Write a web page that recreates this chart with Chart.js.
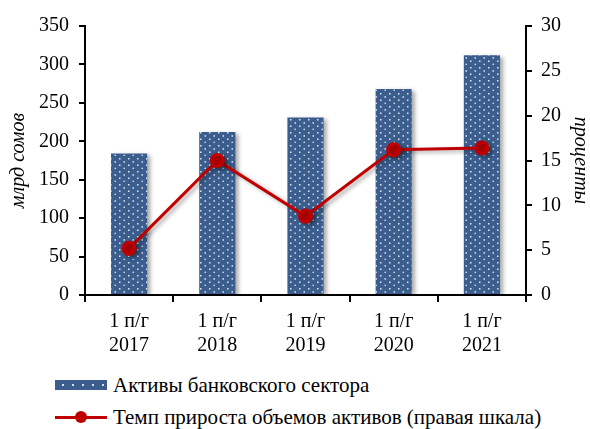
<!DOCTYPE html>
<html>
<head>
<meta charset="utf-8">
<script src="https://cdn.jsdelivr.net/npm/chart.js@4"></script>
<style>
  html, body { margin: 0; padding: 0; background: #fff; }
  #wrap { position: relative; width: 590px; height: 429px; font-family: "Times New Roman", "Liberation Serif", serif; }
  #chart-box { position: absolute; left: 0; top: 0; width: 590px; height: 366px; }
  .legend { position: absolute; left: 55px; font-size: 21px; line-height: 24px; color: #000; display: flex; align-items: center; white-space: nowrap; }
  .sym-bar { width: 52px; height: 10px; margin-right: 6px; background-color: #3b5e8f;
    background-image: radial-gradient(circle, rgba(255,255,255,0.8) 0.8px, transparent 1.2px);
    background-size: 10px 10px; background-position: 3px 0; }
  .sym-line { position: relative; width: 52px; height: 12px; margin-right: 6px; }
  .sym-line::before { content: ''; position: absolute; left: 0; right: 0; top: 4.5px; height: 3px; background: #c00000; }
  .sym-line::after { content: ''; position: absolute; left: 20px; top: 0; width: 12px; height: 12px; border-radius: 50%; background: #c00000; }
</style>
</head>
<body>
<div id="wrap">
  <div id="chart-box"><canvas id="c"></canvas></div>
  <div class="legend" style="top:373px"><div class="sym-bar"></div>Активы банковского сектора</div>
  <div class="legend" style="top:405px"><div class="sym-line"></div>Темп прироста объемов активов (правая шкала)</div>
</div>
<script>
// данные
var LABELS = [['1 п/г', '2017'], ['1 п/г', '2018'], ['1 п/г', '2019'], ['1 п/г', '2020'], ['1 п/г', '2021']];
var ASSETS = [184, 212, 231, 268, 312];      // млрд сомов
var GROWTH = [5.2, 15.0, 8.8, 16.2, 16.4];   // проценты

var BLUE = '#3b5e8f';
var RED = '#c00000';
var FAMILY = "'Times New Roman', 'Liberation Serif', serif";

function font(italic) {
  return { family: FAMILY, size: 20, style: italic ? 'italic' : 'normal', lineHeight: italic ? 1.0 : 1.2 };
}

function dotPattern() {
  var t = document.createElement('canvas');
  t.width = 9; t.height = 13;
  var g = t.getContext('2d');
  g.fillStyle = BLUE;
  g.fillRect(0, 0, 9, 13);
  g.fillStyle = 'rgba(255,255,255,0.85)';
  g.fillRect(2, 2, 1.5, 1.5);
  g.fillRect(2, 8.5, 1.5, 1.5);
  g.fillRect(6.5, 5.2, 1.5, 1.5);
  g.fillRect(6.5, 11.7, 1.5, 1.2);
  return g.createPattern(t, 'repeat');
}

var shadowPlugin = {
  id: 'shadow',
  beforeDatasetDraw: function (chart) {
    var ctx = chart.ctx;
    ctx.save();
    ctx.shadowColor = 'rgba(0,0,0,0.35)';
    ctx.shadowBlur = 4;
    ctx.shadowOffsetX = 3;
    ctx.shadowOffsetY = 2;
  },
  afterDatasetDraw: function (chart) { chart.ctx.restore(); }
};

new Chart(document.getElementById('c'), {
  type: 'bar',
  data: {
    labels: LABELS,
    datasets: [
      {
        type: 'line',
        label: 'Темп прироста объемов активов (правая шкала)',
        data: GROWTH,
        yAxisID: 'y2',
        borderColor: RED,
        backgroundColor: RED,
        borderWidth: 3,
        pointRadius: 6,
        pointBackgroundColor: RED,
        pointBorderColor: RED,
        tension: 0,
        order: 0
      },
      {
        label: 'Активы банковского сектора',
        data: ASSETS,
        yAxisID: 'y',
        backgroundColor: dotPattern(),
        categoryPercentage: 1,
        barPercentage: 0.41,
        order: 1
      }
    ]
  },
  options: {
    responsive: true,
    maintainAspectRatio: false,
    animation: false,
    layout: { padding: { top: 26, left: 7, right: 0, bottom: 0 } },
    plugins: { legend: { display: false }, tooltip: { enabled: false } },
    scales: {
      x: {
        grid: { drawOnChartArea: false, drawTicks: true, tickLength: 7, color: '#000', lineWidth: 2, offset: true },
        border: { color: '#000', width: 2 },
        ticks: { color: '#000', font: font(false), maxRotation: 0, padding: 8 }
      },
      y: {
        position: 'left',
        min: 0, max: 350,
        ticks: { stepSize: 50, color: '#000', font: font(false), padding: 10 },
        grid: { drawOnChartArea: false, drawTicks: true, tickLength: 6, color: '#000', lineWidth: 2 },
        border: { color: '#000', width: 2 },
        title: { display: true, text: 'млрд сомов', color: '#000', font: font(true), padding: { top: 2, bottom: 0 } }
      },
      y2: {
        position: 'right',
        min: 0, max: 30,
        ticks: { stepSize: 5, color: '#000', font: font(false), padding: 9 },
        grid: { drawOnChartArea: false, drawTicks: true, tickLength: 6, color: '#000', lineWidth: 2 },
        border: { color: '#000', width: 2 },
        title: { display: true, text: 'проценты', color: '#000', font: font(true), padding: { top: 0, bottom: 0 } }
      }
    }
  },
  plugins: [shadowPlugin]
});
</script>
</body>
</html>
